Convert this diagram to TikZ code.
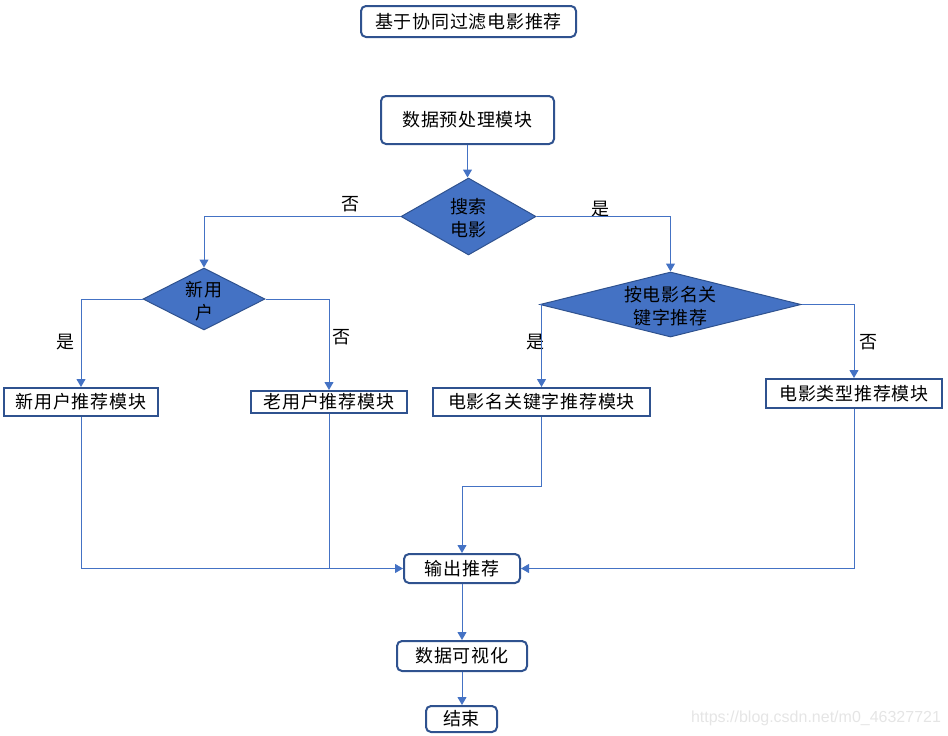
\documentclass[tikz,border=0pt]{standalone}
\usepackage{fontspec}
\setmainfont{Liberation Sans}
\newfontfamily\cjk[LetterSpace=4]{Noto Sans CJK SC}
\usetikzlibrary{shapes.geometric,arrows.meta}
\definecolor{edgeblue}{HTML}{2F528F}
\definecolor{fillblue}{HTML}{4472C4}

\begin{document}
\begin{tikzpicture}[x=1pt,y=-1pt,
  every node/.style={font=\cjk\fontsize{18}{23}\selectfont, text=black},
  roundbox/.style={draw=edgeblue, line width=2pt, rounded corners=5pt, fill=white, inner sep=0pt},
  sqbox/.style={draw=edgeblue, line width=2pt, fill=white, inner sep=0pt},
  decision/.style={diamond, draw=edgeblue, line width=1pt, fill=fillblue, inner sep=0pt},
  dtext/.style={label={[align=center, yshift=-2pt]center:#1}},
  line/.style={draw=fillblue, line width=1pt},
  link/.style={line, -{Triangle[width=9pt,length=8pt]}},
  tag/.style={inner sep=0pt}]
\useasboundingbox (0,0) rectangle (948,736);

% title
\node[roundbox, minimum width=215pt, minimum height=31pt] (title) at (468.5,21.5) {基于协同过滤电影推荐};

% main flow
\node[roundbox, minimum width=173pt, minimum height=48pt] (prep) at (467.5,120) {数据预处理模块};
\node[decision, minimum width=135pt, minimum height=77pt, dtext={搜索\\电影}] (search) at (468.5,216.5) {};
\node[decision, minimum width=122pt, minimum height=62pt, dtext={新用\\户}] (newq) at (204,299) {};
\node[decision, minimum width=261pt, minimum height=65pt, dtext={按电影名关\\键字推荐}] (kwq) at (670.5,304.5) {};

% recommendation modules
\node[sqbox, minimum width=154pt, minimum height=28pt] (newrec) at (81,402) {新用户推荐模块};
\node[sqbox, minimum width=156pt, minimum height=22pt] (oldrec) at (329,402) {老用户推荐模块};
\node[sqbox, minimum width=217pt, minimum height=28pt] (kwrec) at (541.5,402) {电影名关键字推荐模块};
\node[sqbox, minimum width=176pt, minimum height=29pt] (typerec) at (854,393.5) {电影类型推荐模块};

% output chain
\node[roundbox, minimum width=116pt, minimum height=29pt] (out) at (462,568.5) {输出推荐};
\node[roundbox, minimum width=130pt, minimum height=30pt] (vis) at (462,656) {数据可视化};
\node[roundbox, minimum width=71pt, minimum height=26pt] (end) at (461.5,719) {结束};

% branch labels
\node[tag] (no1) at (350,204) {否};
\node[tag] (yes1) at (600,209) {是};
\node[tag] (yes2) at (65,342) {是};
\node[tag] (no2) at (341,337) {否};
\node[tag] (yes3) at (535,342) {是};
\node[tag] (no3) at (868,342) {否};

% connectors
\draw[link] (prep.south) -- (prep.south |- search.north);
\draw[link] (search.west) -| (newq.north);
\draw[link] (search.east) -| (kwq.north);
\draw[link] (newq.west) -| (newrec.north);
\draw[link] (newq.east) -| (oldrec.north);
\draw[link] (kwq.west) -| (kwrec.north);
\draw[link] (kwq.east) -| (typerec.north);
\draw[link] (newrec.south) |- (out.west);
\draw[line] (oldrec.south) -- (oldrec.south |- out.west);
\coordinate (kwbend) at (541.5,486);
\draw[link] (kwrec.south) -- (kwbend) -| (out.north);
\draw[link] (typerec.south) |- (out.east);
\draw[link] (out.south) -- (vis.north);
\draw[link] (vis.south) -- (vis.south |- end.north);

% source note
\node[font=\fontsize{16}{18}\selectfont, text=black!10] (src) at (816,718) {https://blog.csdn.net/m0\_46327721};
\end{tikzpicture}
\end{document}
